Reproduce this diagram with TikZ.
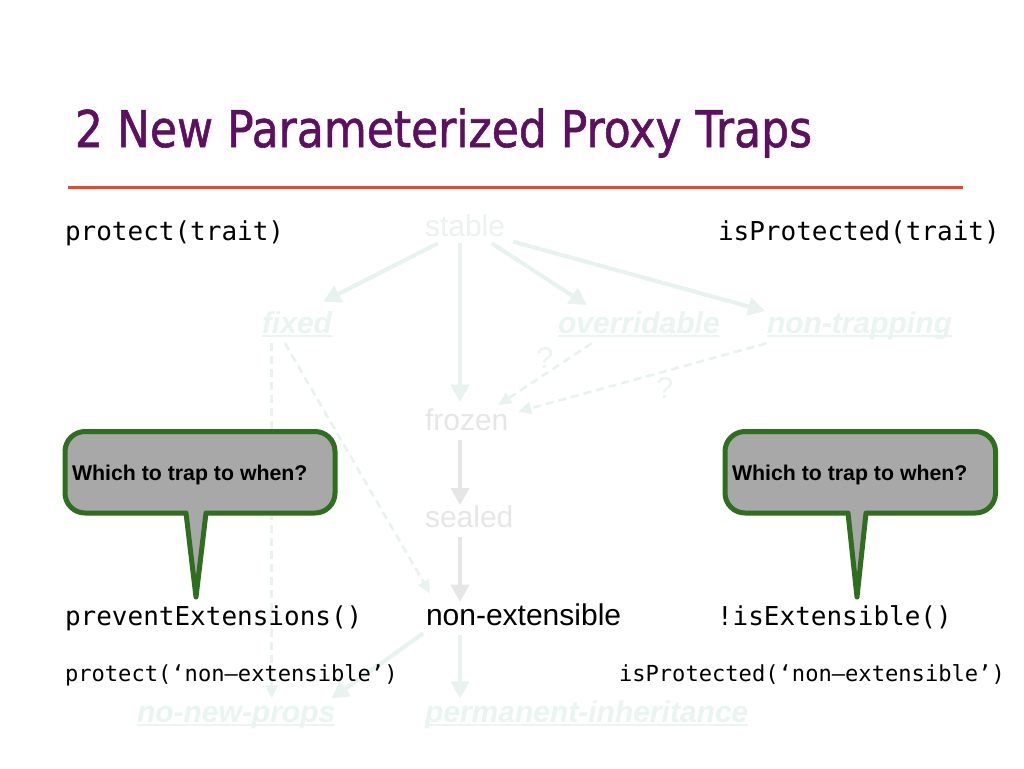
\documentclass[tikz,border=0pt]{standalone}
\usepackage{fontspec}
\usepackage{graphicx}
\setmainfont{Liberation Sans}
\newfontfamily\codefont{DejaVu Sans Mono}
\newfontfamily\headfont[FakeBold=1.2]{DejaVu Sans}
\usetikzlibrary{arrows.meta}

\definecolor{titlepurple}{HTML}{5E1060}
\definecolor{rulered}{HTML}{E8472B}
\definecolor{mint}{HTML}{EAF4F1}
\definecolor{mintline}{HTML}{E8F2EF}
\definecolor{stabletext}{HTML}{EBF2F0}
\definecolor{pale}{HTML}{E6E6E6}
\definecolor{tipfill}{HTML}{A8A8A8}
\definecolor{tipgreen}{HTML}{2F6E1F}

\pgfdeclarelayer{paper}
\pgfdeclarelayer{links}
\pgfsetlayers{paper,links,main}

\begin{document}
\begin{tikzpicture}[x=1pt,y=-1pt,
  txt/.style={inner sep=0pt, outer sep=0pt, anchor=base west},
  code/.style={txt, font=\codefont\fontsize{26pt}{30pt}\selectfont},
  smallcode/.style={txt, font=\codefont\fontsize{22.1pt}{26pt}\selectfont},
  state/.style={txt, font=\fontsize{30pt}{36pt}\selectfont},
  oldstate/.style={state, text=pale},
  trait/.style={txt, text=mint, font=\fontsize{30pt}{36pt}\selectfont\bfseries\itshape},
  flow/.style={draw=mintline, line width=4pt, -{Triangle[length=17pt,width=18pt]}},
  greyflow/.style={flow, draw=pale},
  maybe/.style={draw=mintline, line width=2.5pt, dash pattern=on 8pt off 5pt,
    -{Triangle[length=13pt,width=12pt]}},
  underbar/.style={draw=mint, line width=2pt},
  callout/.style={draw=tipgreen, fill=tipfill, line width=5pt, line join=round},
  ask/.style={txt, font=\fontsize{21.3pt}{26pt}\selectfont\bfseries}
]
\useasboundingbox (0,0) rectangle (1024,768);
\begin{pgfonlayer}{paper}
  \fill[white] (0,0) rectangle (1024,768);
\end{pgfonlayer}

% heading and rule
\node[txt, text=titlepurple] (title) at (75,147)
  {\resizebox{737pt}{38.5pt}{\headfont\fontsize{50pt}{60pt}\selectfont 2 New Parameterized Proxy Traps}};
\draw[rulered, line width=3.3pt] (68,187.7) -- (963,187.7);

% API calls
\node[code] (protect) at (65,240) {protect(trait)};
\node[code] (isprot) at (718,240) {isProtected(trait)};
\node[code] (prevent) at (65,625) {preventExtensions()};
\node[code] (isext) at (717,625) {!isExtensible()};
\node[smallcode] (protectne) at (65,681) {protect(‘non–extensible’)};
\node[smallcode] (isprotne) at (619,681) {isProtected(‘non–extensible’)};

% states and traits
\node[state, text=stabletext] (stable) at (425,236) {stable};
\node[trait] (fixed) at (262,333) {fixed};
\node[trait] (overr) at (558,333) {overridable};
\node[trait] (nontrap) at (767,333) {non-trapping};
\node[oldstate] (frozen) at (425,430) {frozen};
\node[oldstate] (sealed) at (425,527) {sealed};
\node[state] (nonext) at (426,625) {non-extensible};
\node[trait] (nonewp) at (137,722) {no-new-props};
\node[trait] (perm) at (425,722) {permanent-inheritance};
\node[state, anchor=center, text=mint] (q1) at (545,358) {?};
\node[state, anchor=center, text=mint] (q2) at (665,388) {?};

\foreach \n in {fixed,overr,nontrap,nonewp,perm}
  \draw[underbar] ([yshift=-3pt]\n.base west) -- ([yshift=-3pt]\n.base east);

% transitions, kept behind the text
\begin{pgfonlayer}{links}
\draw[flow] ([shift={(13,7.3)}]stable.base west) -- ([shift={(61.3,-31.3)}]fixed.base west);
\draw[flow] ([shift={(35,7.3)}]stable.base west) -- ([shift={(35,-28.3)}]frozen.base west);
\draw[flow] ([shift={(66.7,7.3)}]stable.base west) -- ([shift={(28.7,-28)}]overr.base west);
\draw[flow] ([shift={(88.3,5.7)}]stable.base west) -- ([shift={(-2,-22)}]nontrap.base west);
\draw[maybe] ([shift={(33.7,10.3)}]overr.base west) -- ([shift={(73.3,-25)}]frozen.base west);
\draw[maybe] ([shift={(-0.3,10.3)}]nontrap.base west) -- ([shift={(93.3,-18.3)}]frozen.base west);
\draw[maybe] ([shift={(9.7,10.3)}]fixed.base west) -- ([shift={(134.7,-23.7)}]nonewp.base west);
\draw[maybe] ([shift={(23,10.3)}]fixed.base west) -- ([shift={(4,-31.7)}]nonext.base west);
\draw[greyflow] ([shift={(35,10)}]frozen.base west) -- ([shift={(35,-22)}]sealed.base west);
\draw[greyflow] ([shift={(35,9.7)}]sealed.base west) -- ([shift={(34,-23.3)}]nonext.base west);
\draw[flow] ([shift={(-2.7,8.3)}]nonext.base west) -- ([shift={(194.7,-23.7)}]nonewp.base west);
\draw[flow] ([shift={(34,10)}]nonext.base west) -- ([shift={(35,-23.7)}]perm.base west);
\end{pgfonlayer}

% speech bubbles
\draw[callout] (200,431.5) [rounded corners=20pt] -- (335,431.5) -- (335,513)
  [sharp corners] -- (206,513) -- (196,597) -- (186,513)
  [rounded corners=20pt] -- (65,513) -- (65,431.5) -- cycle;
\draw[callout] (860,431.5) [rounded corners=20pt] -- (995.5,431.5) -- (995.5,513)
  [sharp corners] -- (866,513) -- (857,597) -- (848,513)
  [rounded corners=20pt] -- (725,513) -- (725,431.5) -- cycle;
\node[ask] (lask) at (72,480) {Which to trap to when?};
\node[ask] (rask) at (732,480) {Which to trap to when?};
\end{tikzpicture}
\end{document}
